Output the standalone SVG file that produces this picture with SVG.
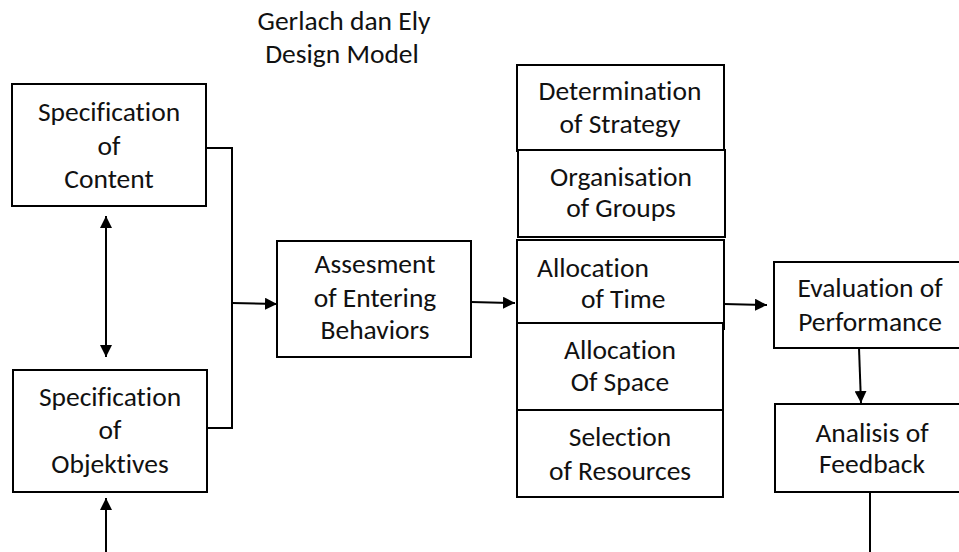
<svg xmlns="http://www.w3.org/2000/svg" width="959" height="552" viewBox="0 0 959 552">
<style>
  .box { fill: #ffffff; stroke: #000000; stroke-width: 2; }
  .t { font-family: Carlito, Calibri, "Liberation Sans", sans-serif; font-size: 27.5px; fill: #111111; text-anchor: middle; font-variant-ligatures: none; }
  .ts { text-anchor: start; }
  .ln { fill: none; stroke: #000000; stroke-width: 2; }
</style>
<defs>
  <marker id="ah" viewBox="0 0 12 12" refX="12" refY="6" markerWidth="12" markerHeight="12" markerUnits="userSpaceOnUse" orient="auto-start-reverse">
    <path d="M0,0 L12,6 L0,12 Z" fill="#000000"/>
  </marker>
</defs>
<rect width="959" height="552" fill="#ffffff"/>
<g id="title">
  <text class="t" x="344" y="30">Gerlach dan Ely</text>
  <text class="t" x="342" y="63">Design Model</text>
</g>
<g id="connectors">
  <polyline class="ln" points="206,148 232,148 232,428 207,428"/>
  <line class="ln" x1="232" y1="303" x2="277" y2="304" marker-end="url(#ah)"/>
  <line class="ln" x1="106" y1="216" x2="106" y2="357" marker-start="url(#ah)" marker-end="url(#ah)"/>
  <line class="ln" x1="106" y1="552" x2="106" y2="498" marker-end="url(#ah)"/>
  <line class="ln" x1="471" y1="302" x2="515" y2="303" marker-end="url(#ah)"/>
  <line class="ln" x1="724" y1="304" x2="767" y2="305" marker-end="url(#ah)"/>
  <line class="ln" x1="859" y1="348" x2="861" y2="403" marker-end="url(#ah)"/>
  <line class="ln" x1="870" y1="492" x2="870" y2="552"/>
</g>
<g id="spec-content">
  <rect class="box" x="12" y="84" width="194" height="122"/>
  <text class="t" x="109" y="121">Specification</text>
  <text class="t" x="109" y="155">of</text>
  <text class="t" x="109" y="188">Content</text>
</g>
<g id="spec-objectives">
  <rect class="box" x="13" y="370" width="194" height="122"/>
  <text class="t" x="110" y="406">Specification</text>
  <text class="t" x="110" y="439">of</text>
  <text class="t" x="110" y="473">Objektives</text>
</g>
<g id="assesment">
  <rect class="box" x="277" y="241" width="194" height="116"/>
  <text class="t" x="375" y="273">Assesment</text>
  <text class="t" x="375" y="307">of Entering</text>
  <text class="t" x="375" y="339">Behaviors</text>
</g>
<g id="determination">
  <rect class="box" x="517" y="65" width="207" height="86"/>
  <text class="t" x="620" y="100">Determination</text>
  <text class="t" x="620" y="133">of Strategy</text>
</g>
<g id="organisation">
  <rect class="box" x="518" y="150" width="207" height="87"/>
  <text class="t" x="621" y="186">Organisation</text>
  <text class="t" x="621" y="217">of Groups</text>
</g>
<g id="alloc-time">
  <rect class="box" x="517" y="240" width="207" height="83"/>
  <line class="ln" x1="724" y1="240" x2="724" y2="330"/>
  <text class="t ts" x="537" y="277">Allocation</text>
  <text class="t ts" x="581" y="308">of Time</text>
</g>
<g id="alloc-space">
  <rect class="box" x="517" y="323" width="206" height="87"/>
  <text class="t" x="620" y="359">Allocation</text>
  <text class="t" x="620" y="391">Of Space</text>
</g>
<g id="selection">
  <rect class="box" x="517" y="410" width="206" height="87"/>
  <text class="t" x="620" y="446">Selection</text>
  <text class="t" x="620" y="480">of Resources</text>
</g>
<g id="evaluation">
  <rect class="box" x="774" y="262" width="190" height="86"/>
  <text class="t" x="870" y="297">Evaluation of</text>
  <text class="t" x="870" y="331">Performance</text>
</g>
<g id="analisis">
  <rect class="box" x="775" y="404" width="190" height="88"/>
  <text class="t" x="872" y="442">Analisis of</text>
  <text class="t" x="872" y="473">Feedback</text>
</g>
</svg>
